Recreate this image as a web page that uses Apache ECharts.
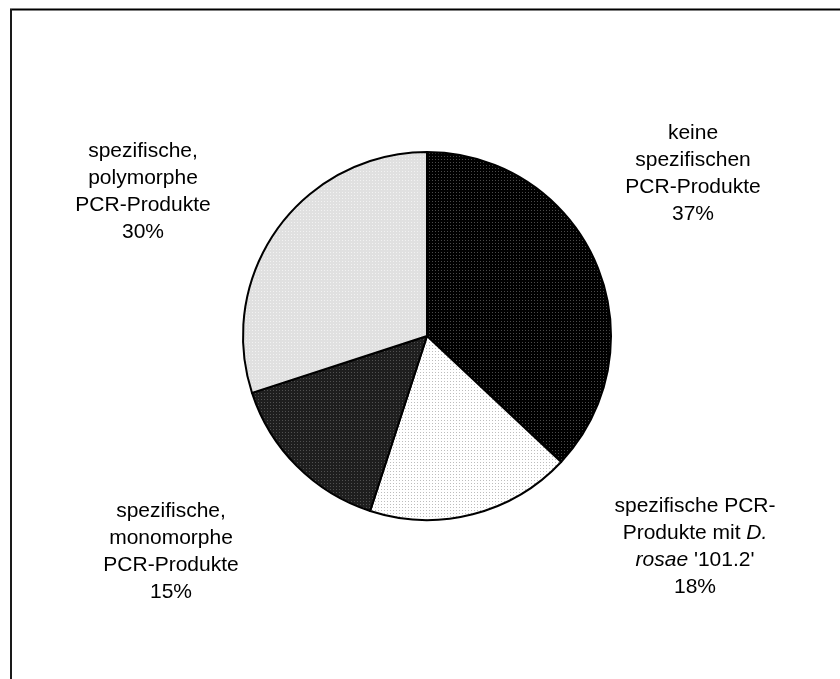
<!DOCTYPE html>
<html>
<head>
<meta charset="utf-8">
<script src="https://cdn.jsdelivr.net/npm/echarts@6/dist/echarts.min.js"></script>
<style>
html,body{margin:0;padding:0;background:#fff;}
#chart{width:840px;height:679px;}
</style>
</head>
<body>
<div id="chart"></div>
<script>
// Data
const categories = [
  'keine\nspezifischen\nPCR-Produkte',
  'spezifische PCR-\nProdukte mit {i|D.}\n{i|rosae} \'101.2\'',
  'spezifische,\nmonomorphe\nPCR-Produkte',
  'spezifische,\npolymorphe\nPCR-Produkte'
];
const values = [37, 18, 15, 30];

// Styles / layout (not data)
function pat(bg, dot, step) {
  const c = document.createElement('canvas');
  c.width = c.height = step;
  const g = c.getContext('2d');
  g.fillStyle = bg; g.fillRect(0, 0, step, step);
  g.fillStyle = dot; g.fillRect(0, 0, 1, 1);
  return { image: c, repeat: 'repeat' };
}
const fills = [
  pat('#000000', '#4a4a4a', 3),
  pat('#ffffff', '#bdbdbd', 3),
  pat('#1e1e1e', '#505050', 3),
  pat('#e0e0e0', '#f2f2f2', 3)
];
const labelPos = [[693, 174], [695, 547], [171, 552], [143, 192]];

const chart = echarts.init(document.getElementById('chart'), null, { renderer: 'canvas' });
chart.setOption({
  animation: false,
  backgroundColor: '#ffffff',
  graphic: [
    { type: 'line', shape: { x1: 10, y1: 9.5, x2: 840, y2: 9.5 }, style: { stroke: '#000', lineWidth: 2 } },
    { type: 'line', shape: { x1: 11, y1: 9, x2: 11, y2: 679 }, style: { stroke: '#1a1a1a', lineWidth: 2 } }
  ],
  series: [{
    type: 'pie',
    center: [427, 336],
    radius: [0, 184],
    startAngle: 90,
    clockwise: true,
    avoidLabelOverlap: false,
    emphasis: { disabled: true },
    itemStyle: { borderColor: '#000', borderWidth: 2 },
    label: {
      show: true,
      position: 'outside',
      formatter: p => p.name + '\n' + p.value + '%',
      color: '#000',
      fontFamily: 'Liberation Sans, Arial, sans-serif',
      fontSize: 21,
      lineHeight: 27,
      align: 'center',
      rich: {
        i: { fontStyle: 'italic', fontFamily: 'Liberation Sans, Arial, sans-serif', fontSize: 21, lineHeight: 27, color: '#000' }
      }
    },
    labelLine: { show: false },
    labelLayout: function (params) {
      const p = labelPos[params.dataIndex];
      return { x: p[0], y: p[1], align: 'center', verticalAlign: 'middle' };
    },
    data: categories.map((c, i) => ({ name: c, value: values[i], itemStyle: { color: fills[i] } }))
  }]
});
</script>
</body>
</html>
